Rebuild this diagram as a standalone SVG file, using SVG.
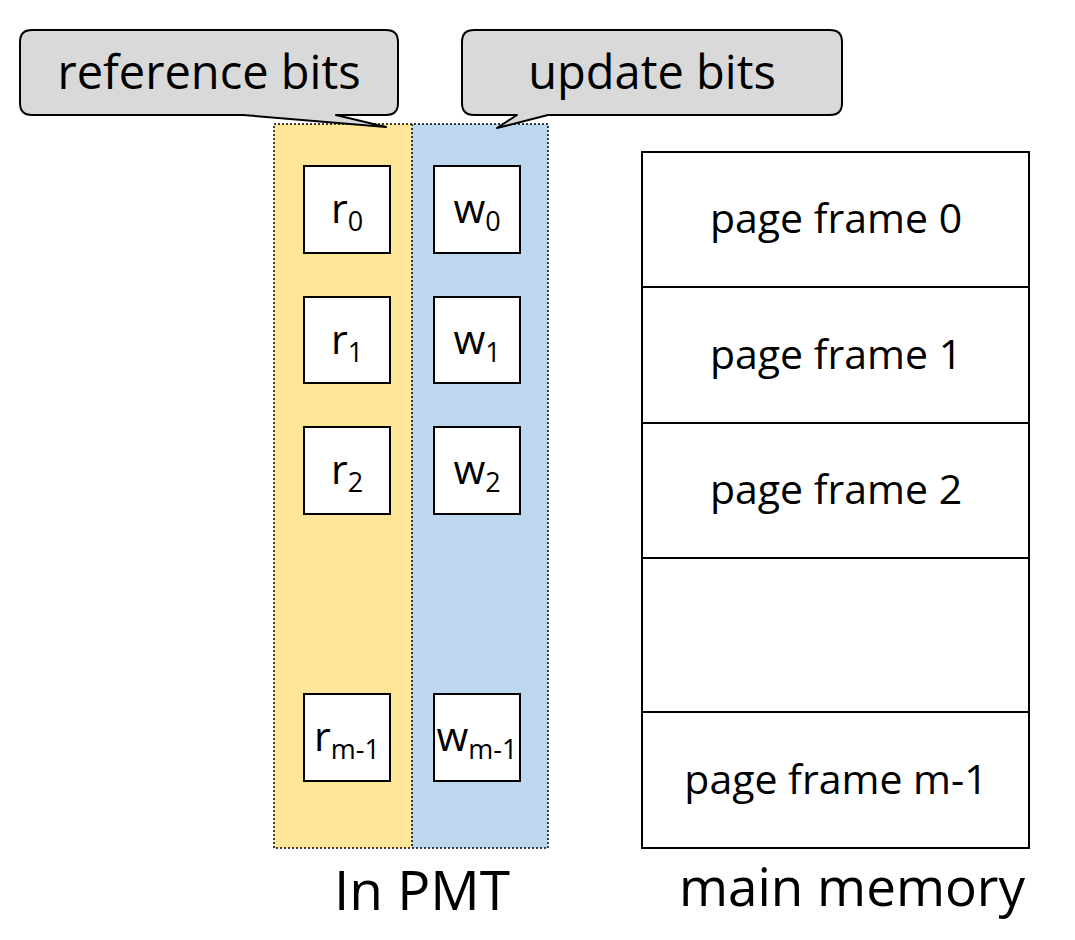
<svg xmlns="http://www.w3.org/2000/svg" width="1075" height="940" viewBox="0 0 1075 940">
<style>
text{font-family:"Open Sans","Noto Sans","DejaVu Sans",sans-serif;fill:#000}
.cell{fill:#fff;stroke:#000;stroke-width:2}
.bit{font-size:41px;text-anchor:middle}
.sub{font-size:27px}
.frame{fill:#fff;stroke:#000;stroke-width:2}
.pf{font-size:41px;text-anchor:middle}
.call{fill:#d9d9d9;stroke:#000;stroke-width:2;stroke-linejoin:round}
.ct{font-size:47px;text-anchor:middle}
</style>
<g id="pmt">
<rect x="274" y="124" width="138" height="724" fill="#ffe699"/>
<rect x="412" y="124" width="136" height="724" fill="#bdd7ee"/>
<rect x="274" y="124" width="274" height="724" fill="none" stroke="#000" stroke-width="1.5" stroke-dasharray="2,2"/>
<line x1="412" y1="124" x2="412" y2="848" stroke="#000" stroke-width="1.5" stroke-dasharray="2,2"/>
</g>
<g id="r0"><rect class="cell" x="304" y="166" width="86" height="87"/><text class="bit" x="347" y="223">r<tspan class="sub" dy="8">0</tspan></text></g>
<g id="w0"><rect class="cell" x="434" y="166" width="86" height="87"/><text class="bit" x="477" y="223">w<tspan class="sub" dy="8">0</tspan></text></g>
<g id="r1"><rect class="cell" x="304" y="297" width="86" height="86"/><text class="bit" x="347" y="354">r<tspan class="sub" dy="8">1</tspan></text></g>
<g id="w1"><rect class="cell" x="434" y="297" width="86" height="86"/><text class="bit" x="477" y="354">w<tspan class="sub" dy="8">1</tspan></text></g>
<g id="r2"><rect class="cell" x="304" y="427" width="86" height="87"/><text class="bit" x="347" y="484">r<tspan class="sub" dy="8">2</tspan></text></g>
<g id="w2"><rect class="cell" x="434" y="427" width="86" height="87"/><text class="bit" x="477" y="484">w<tspan class="sub" dy="8">2</tspan></text></g>
<g id="rm1"><rect class="cell" x="304" y="694" width="86" height="87"/><text class="bit" x="347" y="751">r<tspan class="sub" dy="8">m-1</tspan></text></g>
<g id="wm1"><rect class="cell" x="434" y="694" width="86" height="87"/><text class="bit" x="477" y="751">w<tspan class="sub" dy="8">m-1</tspan></text></g>
<g id="callout-ref">
<path class="call" d="M32,30 H386 Q398,30 398,42 V103 Q398,115 386,115 H336 L386,127 L243,115 H32 Q20,115 20,103 V42 Q20,30 32,30 Z"/>
<text class="ct" x="209" y="89">reference bits</text>
</g>
<g id="callout-upd">
<path class="call" d="M474,30 H830 Q842,30 842,42 V103 Q842,115 830,115 H548 L497,128 L517,115 H474 Q462,115 462,103 V42 Q462,30 474,30 Z"/>
<text class="ct" x="652" y="89">update bits</text>
</g>
<g id="memory">
<rect class="frame" x="642" y="152" width="387" height="135"/>
<rect class="frame" x="642" y="287" width="387" height="136"/>
<rect class="frame" x="642" y="423" width="387" height="135"/>
<rect class="frame" x="642" y="558" width="387" height="154"/>
<rect class="frame" x="642" y="712" width="387" height="136"/>
<text class="pf" x="836" y="233">page frame 0</text>
<text class="pf" x="836" y="369">page frame 1</text>
<text class="pf" x="836" y="504">page frame 2</text>
<text class="pf" x="836" y="794">page frame m-1</text>
</g>
<g id="connectors"></g>
<text x="422" y="910" font-size="55" text-anchor="middle">In PMT</text>
<text x="852" y="906" font-size="53" text-anchor="middle">main memory</text>
</svg>
